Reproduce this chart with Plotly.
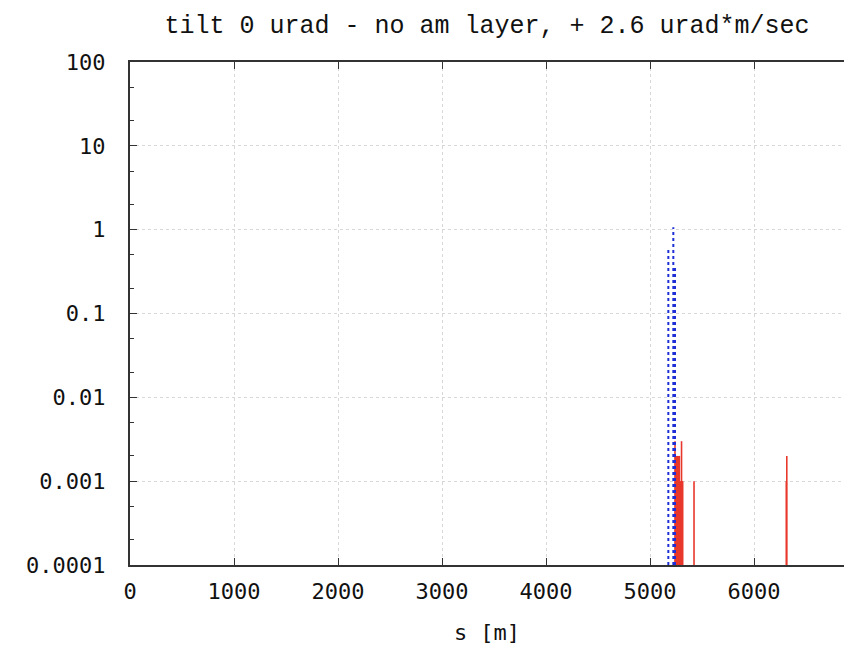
import plotly.graph_objects as go

# s positions [m] and loss values
blue_s = [5176, 5224, 5240]
blue_v = [0.62, 1.07, 0.35]

red_s = [5240, 5246, 5252, 5258, 5264, 5270, 5276, 5282, 5288, 5294, 5300, 5303, 5308, 5314, 5423, 6310, 6315]
red_v = [0.003, 0.002, 0.002, 0.002, 0.002, 0.002, 0.002, 0.002, 0.001, 0.001, 0.001, 0.003, 0.001, 0.001, 0.001, 0.001, 0.002]

y_floor = 1e-4
x_tickvals = [0, 1000, 2000, 3000, 4000, 5000, 6000]
y_tickvals = [0.0001, 0.001, 0.01, 0.1, 1, 10, 100]
y_ticktext = ["0.0001", "0.001", "0.01", "0.1", "1", "10", "100"]


def impulses(xs, vs):
    X, Y = [], []
    for x, v in zip(xs, vs):
        X += [x, x, None]
        Y += [y_floor, v, None]
    return X, Y


fig = go.Figure()
rx, ry = impulses(red_s, red_v)
fig.add_trace(go.Scatter(x=rx, y=ry, mode="lines",
                         line=dict(color="#e8382c", width=1.6), showlegend=False))
bx, by = impulses(blue_s, blue_v)
fig.add_trace(go.Scatter(x=bx, y=by, mode="lines",
                         line=dict(color="#1f2fd6", width=2, dash="dot"), showlegend=False))

tickfont = dict(family="DejaVu Sans Mono", size=22, color="#111")
fig.update_layout(
    width=844, height=645,
    margin=dict(l=130, r=0, t=62, b=80),
    paper_bgcolor="white", plot_bgcolor="white",
    title=dict(text="tilt 0 urad - no am layer, + 2.6 urad*m/sec",
               x=0.5, xref="paper", xanchor="center", y=0.962, yanchor="middle",
               font=dict(family="Courier New, Liberation Mono, monospace", size=25, color="#111")),
    xaxis=dict(range=[0, 6865], tickvals=x_tickvals, tickfont=tickfont,
               showline=True, linecolor="#333", linewidth=2, mirror="ticks",
               ticks="inside", ticklen=7, tickcolor="#333",
               showgrid=True, gridcolor="#d8d8d8", griddash="dot", gridwidth=1,
               zeroline=False, ticklabelstandoff=6,
               title=dict(text="s [m]", font=dict(family="DejaVu Sans Mono", size=22, color="#111"),
                          standoff=24)),
    yaxis=dict(type="log", range=[-4, 2], tickvals=y_tickvals, ticktext=y_ticktext,
               tickfont=tickfont,
               showline=True, linecolor="#333", linewidth=2, mirror=False,
               ticks="inside", ticklen=7, tickcolor="#333",
               showgrid=True, gridcolor="#d8d8d8", griddash="dot", gridwidth=1,
               minor=dict(tickvals=[0.0002, 0.0005, 0.002, 0.005, 0.02, 0.05, 0.2, 0.5, 2, 5, 20, 50],
                          ticks="inside", ticklen=4, tickcolor="#333", showgrid=False),
               zeroline=False, ticklabelstandoff=18),
)

fig.write_html("out.html")
